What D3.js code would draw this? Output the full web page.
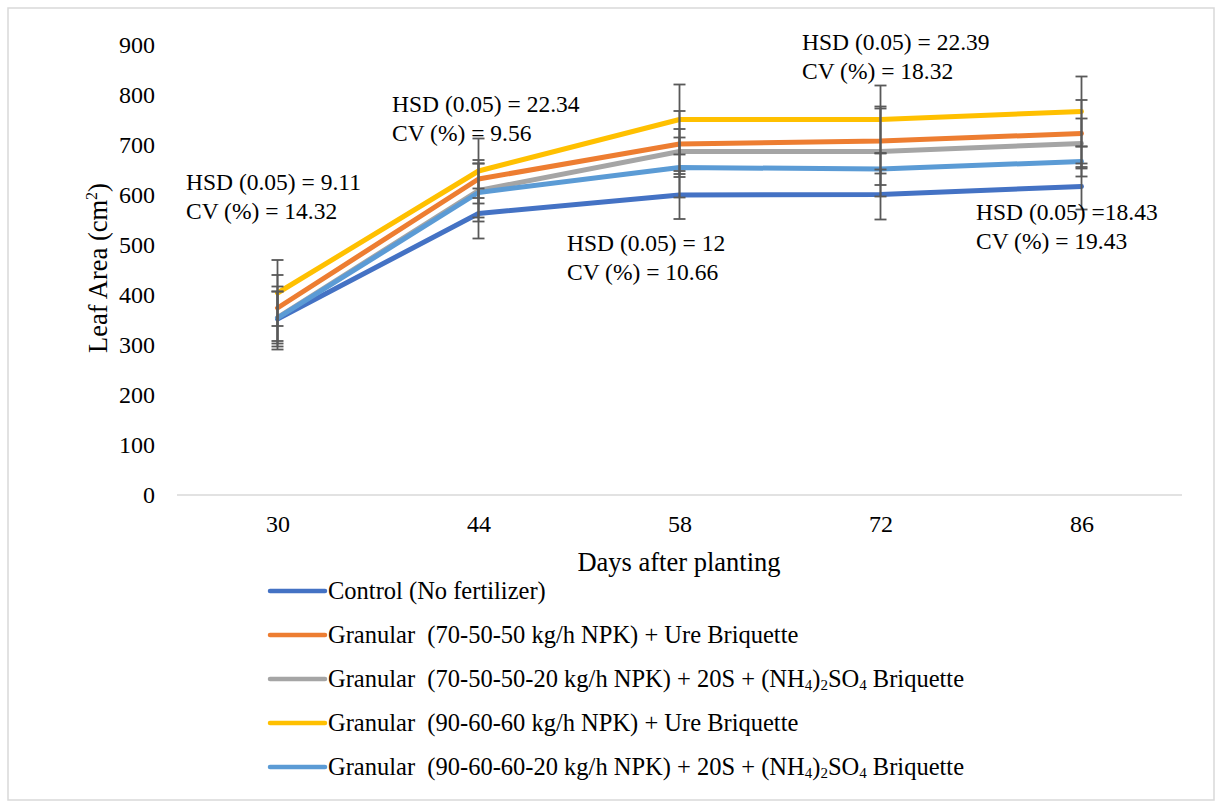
<!DOCTYPE html>
<html>
<head>
<meta charset="utf-8">
<script src="https://cdn.jsdelivr.net/npm/d3@7"></script>
<style>
  body { margin: 0; background: #fff; }
  text { font-family: "Liberation Serif", "Times New Roman", serif; fill: #000; }
</style>
</head>
<body>
<div id="chart"></div>
<script>
(function() {
  var width = 1222,
      height = 806;

  // days after planting (categories)
  var days = ["30", "44", "58", "72", "86"];

  var seriesNames = [
    "Control (No fertilizer)",
    "Granular  (70-50-50 kg/h NPK) + Ure Briquette",
    "Granular  (70-50-50-20 kg/h NPK) + 20S + (NH\u2084)\u2082SO\u2084 Briquette",
    "Granular  (90-60-60 kg/h NPK) + Ure Briquette",
    "Granular  (90-60-60-20 kg/h NPK) + 20S + (NH\u2084)\u2082SO\u2084 Briquette"
  ];
  var seriesColors = ["#4472C4", "#ED7D31", "#A5A5A5", "#FFC000", "#5B9BD5"];

  // leaf area values, one list per treatment
  var control   = [352, 563, 600, 601, 617];
  var ure705050 = [374, 632, 702, 708, 723];
  var as705050  = [355, 609, 687, 687, 703];
  var ure906060 = [404, 648, 751, 751, 767];
  var as906060  = [354, 605, 655, 652, 667];

  // error bar sizes (+/-)
  var errControl   = [55, 50, 48, 50, 46];
  var errUre705050 = [66, 38, 66, 65, 67];
  var errAs705050  = [52, 54, 45, 90, 50];
  var errUre906060 = [66, 65, 70, 68, 70];
  var errAs906060  = [63, 58, 60, 32, 30];

  var yTicks = [0, 100, 200, 300, 400, 500, 600, 700, 800, 900];

  // HSD / CV notes for each sampling day
  var hsdLabels = ["HSD (0.05) = 9.11", "HSD (0.05) = 22.34", "HSD (0.05) = 12", "HSD (0.05) = 22.39", "HSD (0.05) =18.43"];
  var cvLabels  = ["CV (%) = 14.32", "CV (%) = 9.56", "CV (%) = 10.66", "CV (%) = 18.32", "CV (%) = 19.43"];

  var values = [control, ure705050, as705050, ure906060, as906060];
  var errors = [errControl, errUre705050, errAs705050, errUre906060, errAs906060];

  var series = seriesNames.map(function(name, i) {
    return {
      name: name,
      color: seriesColors[i],
      points: days.map(function(d, j) { return {day: d, v: values[i][j], e: errors[i][j]}; })
    };
  });

  var svg = d3.select("#chart").append("svg")
      .attr("width", width)
      .attr("height", height);

  // outer frame
  svg.append("rect")
    .attr("x", 8).attr("y", 8)
    .attr("width", 1206).attr("height", 792)
    .attr("fill", "#fff")
    .attr("stroke", "#d9d9d9")
    .attr("stroke-width", 1.5);

  var plot = {left: 177, right: 1182, top: 45, bottom: 495};

  var x = d3.scalePoint().domain(days).range([plot.left, plot.right]).padding(0.5);
  var y = d3.scaleLinear().domain([0, 900]).range([plot.bottom, plot.top]);

  // y axis
  var yAxis = svg.append("g")
    .attr("transform", "translate(" + plot.left + ",0)")
    .call(d3.axisLeft(y).tickValues(yTicks).tickSize(0).tickPadding(22));
  yAxis.select(".domain").remove();
  yAxis.attr("font-family", null);
  yAxis.selectAll("text").style("font-size", "24px");

  // x axis
  var xAxis = svg.append("g")
    .attr("transform", "translate(0," + plot.bottom + ")")
    .call(d3.axisBottom(x).tickSize(0).tickPadding(20));
  xAxis.select(".domain")
    .attr("stroke", "#d9d9d9")
    .attr("stroke-width", 1.3)
    .attr("d", "M" + plot.left + ",0H" + plot.right);
  xAxis.attr("font-family", null);
  xAxis.selectAll("text").style("font-size", "24px");

  // axis titles
  svg.append("text")
    .attr("x", 679).attr("y", 571)
    .attr("text-anchor", "middle")
    .style("font-size", "26.5px")
    .text("Days after planting");

  var yTitle = svg.append("text")
    .attr("transform", "translate(107,268) rotate(-90)")
    .attr("text-anchor", "middle")
    .style("font-size", "26.5px");
  yTitle.append("tspan").text("Leaf Area (cm");
  yTitle.append("tspan").attr("dy", -10).style("font-size", "16px").text("2");
  yTitle.append("tspan").attr("dy", 10).text(")");

  // lines
  var line = d3.line()
    .x(function(d) { return x(d.day); })
    .y(function(d) { return y(d.v); });

  svg.append("g").selectAll("path")
    .data(series)
    .enter()
    .append("path")
    .attr("d", function(d) { return line(d.points); })
    .attr("fill", "none")
    .attr("stroke", function(d) { return d.color; })
    .attr("stroke-width", 5)
    .attr("stroke-linejoin", "round")
    .attr("stroke-linecap", "round");

  // error bars on top
  var errG = svg.append("g")
    .attr("stroke", "#595959")
    .attr("stroke-width", 1.8);
  series.forEach(function(s) {
    var g = errG.append("g");
    g.selectAll(".stem")
      .data(s.points)
      .enter().append("line")
      .attr("x1", function(d) { return x(d.day); })
      .attr("x2", function(d) { return x(d.day); })
      .attr("y1", function(d) { return y(d.v - d.e); })
      .attr("y2", function(d) { return y(d.v + d.e); });
    [-1, 1].forEach(function(sign) {
      g.selectAll(".cap" + sign)
        .data(s.points)
        .enter().append("line")
        .attr("x1", function(d) { return x(d.day) - 6; })
        .attr("x2", function(d) { return x(d.day) + 6; })
        .attr("y1", function(d) { return y(d.v + sign * d.e); })
        .attr("y2", function(d) { return y(d.v + sign * d.e); });
    });
  });

  // HSD / CV annotations (placed like the original text boxes)
  var notePos = [[186, 190], [392, 112], [567, 251], [802, 50], [976, 220]];
  notePos.forEach(function(p, i) {
    svg.append("text").attr("x", p[0]).attr("y", p[1])
      .style("font-size", "23.5px").text(hsdLabels[i]);
    svg.append("text").attr("x", p[0]).attr("y", p[1] + 29)
      .style("font-size", "23.5px").text(cvLabels[i]);
  });

  // legend
  var legend = svg.append("g").selectAll("g")
    .data(series)
    .enter().append("g")
    .attr("transform", function(d, i) { return "translate(270," + (591 + i * 44) + ")"; });
  legend.append("line")
    .attr("x1", 0).attr("x2", 55)
    .attr("stroke", function(d) { return d.color; })
    .attr("stroke-width", 4.5)
    .attr("stroke-linecap", "round");

  // subscript digits drawn small, like the original
  var subMap = {"\u2082": "2", "\u2084": "4"};
  legend.append("text")
    .attr("x", 58).attr("dy", "0.33em")
    .style("font-size", "24.5px")
    .attr("xml:space", "preserve")
    .each(function(d) {
      var t = d3.select(this);
      var parts = d.name.split(/([\u2082\u2084])/);
      var shifted = false;
      parts.forEach(function(p) {
        if (!p) return;
        if (subMap[p]) {
          t.append("tspan").style("font-size", "15px").attr("dy", shifted ? null : 3).text(subMap[p]);
          shifted = true;
        } else {
          t.append("tspan").attr("dy", shifted ? -3 : null).text(p);
          shifted = false;
        }
      });
    });
})();
</script>
</body>
</html>
